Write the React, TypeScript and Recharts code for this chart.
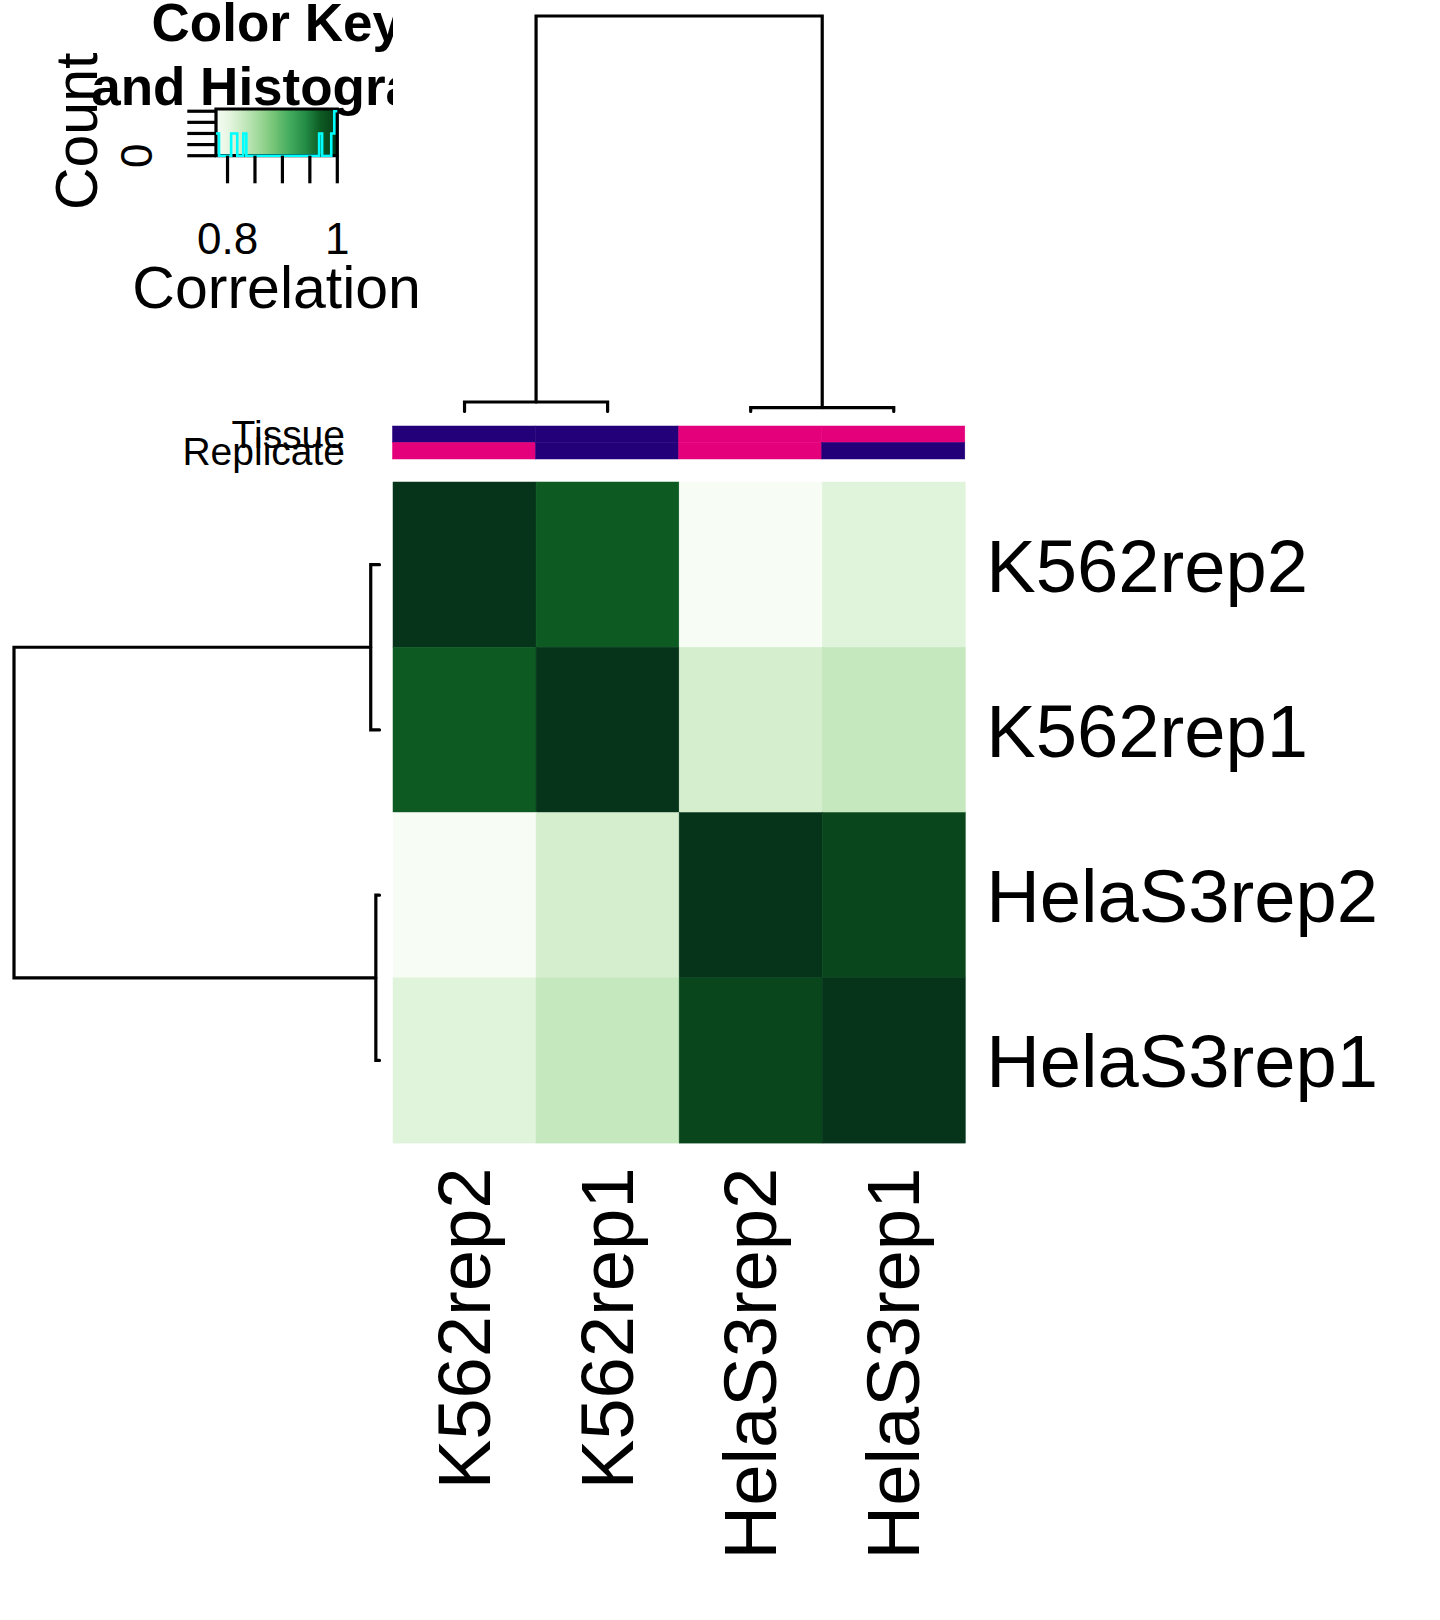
import React from 'react';
import { ComposedChart, LineChart, Line, Scatter, XAxis, YAxis, ReferenceArea } from 'recharts';

const FONT = '"Liberation Sans", Arial, Helvetica, sans-serif';

// samples in heatmap order (rows top -> bottom, columns left -> right)
const samples = ['K562rep2', 'K562rep1', 'HelaS3rep2', 'HelaS3rep1'];
const tissue = ['K562', 'K562', 'HelaS3', 'HelaS3'];
const replicate = ['rep2', 'rep1', 'rep2', 'rep1'];
const sideRows = ['Tissue', 'Replicate'];

// correlation matrix, one row per sample
const rowK562rep2 = [1.0, 0.969, 0.779, 0.807];
const rowK562rep1 = [0.969, 1.0, 0.817, 0.829];
const rowHelaS3rep2 = [0.779, 0.817, 1.0, 0.989];
const rowHelaS3rep1 = [0.807, 0.829, 0.989, 1.0];
const corr = [rowK562rep2, rowK562rep1, rowHelaS3rep2, rowHelaS3rep1];

// hclust style merges: negative = leaf (1-based), positive = earlier merge
const mergeLeft = [-1, -3, 1];
const mergeRight = [-2, -4, 2];
const mergeHeight = [0.048, 0.02, 2.0];

// color key axes
const keyTicks = [0.8, 0.85, 0.9, 0.95, 1];
const keyTickLabels = ['0.8', '', '', '', '1'];
const countTicks = [0, 1, 2, 3, 4];
const countTickLabels = ['0', '', '', '', ''];

const sideColors: Record<string, string> = {
  K562: '#23007a',
  HelaS3: '#e5007b',
  rep1: '#23007a',
  rep2: '#e5007b',
};

// green ramp used by both the cells and the key
const rampAt = [0, 0.11, 0.22, 0.35, 0.48, 0.61, 0.74, 0.86, 0.95, 1];
const rampCol = ['#f7fcf5', '#e5f5e0', '#c7e9c0', '#a1d99b', '#74c476', '#41ab5d', '#238b45', '#0d5b23', '#09461c', '#06341a'];

const allValues = corr.flat();
const vMin = Math.min(...allValues);
const vMax = Math.max(...allValues);

function hexToRgb(h: string) {
  return [1, 3, 5].map((i) => parseInt(h.slice(i, i + 2), 16));
}

function colorFor(v: number) {
  const t = (v - vMin) / (vMax - vMin);
  let k = 0;
  while (k < rampAt.length - 2 && t > rampAt[k + 1]) k++;
  const f = Math.max(0, Math.min(1, (t - rampAt[k]) / (rampAt[k + 1] - rampAt[k])));
  const a = hexToRgb(rampCol[k]);
  const b = hexToRgb(rampCol[k + 1]);
  const c = a.map((x, i) => Math.round(x + (b[i] - x) * f));
  return `rgb(${c[0]},${c[1]},${c[2]})`;
}

// histogram of the matrix values (like hist() inside heatmap.2)
const nBins = 40;
const breaks = Array.from({ length: nBins + 1 }, (_, i) => vMin + ((vMax - vMin) * i) / nBins);
const counts = breaks.slice(0, -1).map((b, i) =>
  allValues.filter((v) => (i === 0 ? v >= b - 1e-9 : v > b) && v <= breaks[i + 1] + 1e-9).length
);
const histData = breaks.map((b, i) => ({ v: b, c: counts[Math.min(i, nBins - 1)] }));

// dendrogram elbows, {p: leaf position, h: height}
function buildDendro() {
  const pos: number[] = [];
  const node = (id: number) =>
    id < 0 ? { p: -id - 0.5, h: 0 } : { p: pos[id - 1], h: mergeHeight[id - 1] };
  return mergeLeft.map((l, i) => {
    const a = node(l);
    const b = node(mergeRight[i]);
    const h = mergeHeight[i];
    pos[i] = (a.p + b.p) / 2;
    return [
      { p: a.p, h: a.h },
      { p: a.p, h },
      { p: b.p, h },
      { p: b.p, h: b.h },
    ];
  });
}
const dendro = buildDendro();
const rootHeight = Math.max(...mergeHeight);

// cells for the heatmap and the side colour rows
const cells = corr.flatMap((row, r) => row.map((v, c) => ({ x: c + 0.5, y: r + 0.5, color: colorFor(v) })));
const sideCells = [tissue, replicate].flatMap((vals, r) =>
  vals.map((v, c) => ({ x: c + 0.5, y: r + 0.5, color: sideColors[v] }))
);

// plot rectangles
const P = 10;
const HM = { x: 392.5, y: 482.4, w: 572.3, h: 661.1 };
const TOPD = { x: 392.5, y: 15.5, w: 572.3, h: 395.5 };
const LEFTD = { x: 14, y: 482.4, w: 365.5, h: 661.1 };
const SIDE = { x: 392.5, y: 426, w: 572.3, h: 33 };
const KEY = { x: 216, y: 109, w: 121.3, h: 46.7 };
const LINE_W = 3.2;
const LABEL_SIZE = 74.2;

const cellShape = (cw: number, ch: number) => (props: any) => {
  const { cx, cy, payload } = props;
  return (
    <rect
      x={cx - cw / 2}
      y={cy - ch / 2}
      width={cw}
      height={ch}
      fill={payload.color}
      stroke={payload.color}
      strokeWidth={0.5}
    />
  );
};

const ColTick = (props: any) => {
  const { x, y, payload } = props;
  const name = samples[Math.floor(payload.value)];
  const bx = x + 25.5;
  const by = y + 24.5;
  return (
    <text x={bx} y={by} transform={`rotate(-90 ${bx} ${by})`} textAnchor="end" fontSize={LABEL_SIZE} fontFamily={FONT} fill="#000">
      {name}
    </text>
  );
};

const RowTick = (props: any) => {
  const { x, y, payload } = props;
  return (
    <text x={x + 21} y={y + 27} textAnchor="start" fontSize={LABEL_SIZE} fontFamily={FONT} fill="#000">
      {samples[Math.floor(payload.value)]}
    </text>
  );
};

const SideTick = (props: any) => {
  const { x, y, payload } = props;
  return (
    <text x={x - 47.5} y={y + 14} textAnchor="end" fontSize={39} fontFamily={FONT} fill="#000">
      {sideRows[Math.floor(payload.value)]}
    </text>
  );
};

const KeyXTick = (props: any) => {
  const { x, y, index } = props;
  return (
    <text x={x} y={y + 70.5} textAnchor="middle" fontSize={44} fontFamily={FONT} fill="#000">
      {keyTickLabels[index]}
    </text>
  );
};

const KeyYTick = (props: any) => {
  const { x, y, index } = props;
  const bx = x - 35.3;
  return (
    <text x={bx} y={y} transform={`rotate(-90 ${bx} ${y})`} textAnchor="middle" fontSize={44} fontFamily={FONT} fill="#000">
      {countTickLabels[index]}
    </text>
  );
};

const CorrelationLabel = (props: any) => {
  const vb = props.viewBox;
  return (
    <text x={vb.x + vb.width / 2} y={vb.y + 152.5} textAnchor="middle" fontSize={59} fontFamily={FONT} fill="#000">
      Correlation
    </text>
  );
};

const CountLabel = (props: any) => {
  const vb = props.viewBox;
  const bx = vb.x - 19;
  const by = vb.y + vb.height / 2 - 1;
  return (
    <text x={bx} y={by} transform={`rotate(-90 ${bx} ${by})`} textAnchor="middle" fontSize={59} fontFamily={FONT} fill="#000">
      Count
    </text>
  );
};

function ColorKey() {
  const cw = 440;
  const ch = 330;
  return (
    <div style={{ position: 'absolute', left: 0, top: 0 }}>
      <ComposedChart
        width={cw}
        height={ch}
        data={histData}
        margin={{ top: KEY.y, left: KEY.x - 100, right: cw - KEY.x - KEY.w, bottom: ch - KEY.y - KEY.h - 100 }}
      >
        <defs>
          <linearGradient id="keyGrad" x1="0" y1="0" x2="1" y2="0">
            {rampAt.map((o, i) => (
              <stop key={i} offset={o} stopColor={rampCol[i]} />
            ))}
          </linearGradient>
        </defs>
        <XAxis
          type="number"
          dataKey="v"
          domain={[vMin, vMax]}
          ticks={keyTicks}
          interval={0}
          height={100}
          tickSize={27.6}
          tickMargin={0}
          axisLine={false}
          stroke="#000"
          tickLine={{ stroke: '#000', strokeWidth: LINE_W }}
          tick={KeyXTick}
          label={<CorrelationLabel />}
        />
        <YAxis
          type="number"
          domain={[0, 4.2]}
          ticks={countTicks}
          interval={0}
          width={100}
          tickSize={28.7}
          tickMargin={0}
          axisLine={false}
          stroke="#000"
          tickLine={{ stroke: '#000', strokeWidth: LINE_W }}
          tick={KeyYTick}
          label={<CountLabel />}
        />
        <ReferenceArea x1={vMin} x2={vMax} y1={0} y2={4.2} fill="url(#keyGrad)" fillOpacity={1} stroke="#000" strokeWidth={LINE_W} />
        <Line dataKey="c" type="stepAfter" stroke="#00ffff" strokeWidth={2.6} dot={false} activeDot={false} isAnimationActive={false} />
      </ComposedChart>
    </div>
  );
}

function TopDendrogram() {
  return (
    <div style={{ position: 'absolute', left: TOPD.x - P, top: TOPD.y - P }}>
      <LineChart width={TOPD.w + 2 * P} height={TOPD.h + 2 * P} margin={{ top: P, right: P, bottom: P, left: P }}>
        <XAxis type="number" dataKey="p" domain={[0, 4]} hide />
        <YAxis type="number" domain={[0, rootHeight]} hide />
        {dendro.map((seg, i) => (
          <Line key={i} data={seg} dataKey="h" type="linear" stroke="#000" strokeWidth={LINE_W} strokeLinecap="round" dot={false} activeDot={false} isAnimationActive={false} />
        ))}
      </LineChart>
    </div>
  );
}

function LeftDendrogram() {
  return (
    <div style={{ position: 'absolute', left: LEFTD.x - P, top: LEFTD.y - P }}>
      <LineChart width={LEFTD.w + 2 * P} height={LEFTD.h + 2 * P} margin={{ top: P, right: P, bottom: P, left: P }}>
        <XAxis type="number" dataKey="h" domain={[0, rootHeight]} reversed hide />
        <YAxis type="number" domain={[0, 4]} reversed hide />
        {dendro.map((seg, i) => (
          <Line key={i} data={seg} dataKey="p" type="linear" stroke="#000" strokeWidth={LINE_W} strokeLinecap="round" dot={false} activeDot={false} isAnimationActive={false} />
        ))}
      </LineChart>
    </div>
  );
}

function SideColors() {
  const left = 100;
  const pad = 30;
  return (
    <div style={{ position: 'absolute', left, top: SIDE.y - pad }}>
      <ComposedChart
        width={SIDE.x + SIDE.w + pad - left}
        height={SIDE.h + 2 * pad}
        data={sideCells}
        margin={{ top: pad, bottom: pad, right: pad, left: 0 }}
      >
        <XAxis type="number" dataKey="x" domain={[0, 4]} hide />
        <YAxis
          type="number"
          dataKey="y"
          domain={[0, 2]}
          reversed
          ticks={[0.5, 1.5]}
          interval={0}
          width={SIDE.x - left}
          axisLine={false}
          tickLine={false}
          tickSize={0}
          tickMargin={0}
          tick={SideTick}
        />
        <Scatter data={sideCells} dataKey="y" shape={cellShape(SIDE.w / 4, SIDE.h / 2)} isAnimationActive={false} />
      </ComposedChart>
    </div>
  );
}

function Heatmap() {
  return (
    <div style={{ position: 'absolute', left: HM.x - P, top: HM.y - P }}>
      <ComposedChart
        width={1440 - HM.x + P}
        height={1620 - HM.y + P}
        data={cells}
        margin={{ top: P, left: P, right: 0, bottom: 0 }}
      >
        <XAxis
          type="number"
          dataKey="x"
          domain={[0, 4]}
          ticks={[0.5, 1.5, 2.5, 3.5]}
          interval={0}
          height={1620 - HM.y - HM.h}
          axisLine={false}
          tickLine={false}
          tickSize={0}
          tickMargin={0}
          tick={ColTick}
        />
        <YAxis
          type="number"
          dataKey="y"
          orientation="right"
          domain={[0, 4]}
          reversed
          ticks={[0.5, 1.5, 2.5, 3.5]}
          interval={0}
          width={1440 - HM.x - HM.w}
          axisLine={false}
          tickLine={false}
          tickSize={0}
          tickMargin={0}
          tick={RowTick}
        />
        <Scatter data={cells} dataKey="y" shape={cellShape(HM.w / 4, HM.h / 4)} isAnimationActive={false} />
      </ComposedChart>
    </div>
  );
}

export default function App() {
  return (
    <div style={{ position: 'absolute', left: 0, top: 0, width: 1440, height: 1620, background: '#fff', overflow: 'hidden' }}>
      <svg width={393} height={120} style={{ position: 'absolute', left: 0, top: 0, overflow: 'hidden' }}>
        <text x={276.7} y={41} textAnchor="middle" fontSize={53} fontWeight="bold" fontFamily={FONT} fill="#000">
          Color Key
        </text>
        <text x={276.7} y={104.5} textAnchor="middle" fontSize={53} fontWeight="bold" fontFamily={FONT} fill="#000">
          and Histogram
        </text>
      </svg>
      <ColorKey />
      <TopDendrogram />
      <SideColors />
      <LeftDendrogram />
      <Heatmap />
    </div>
  );
}
